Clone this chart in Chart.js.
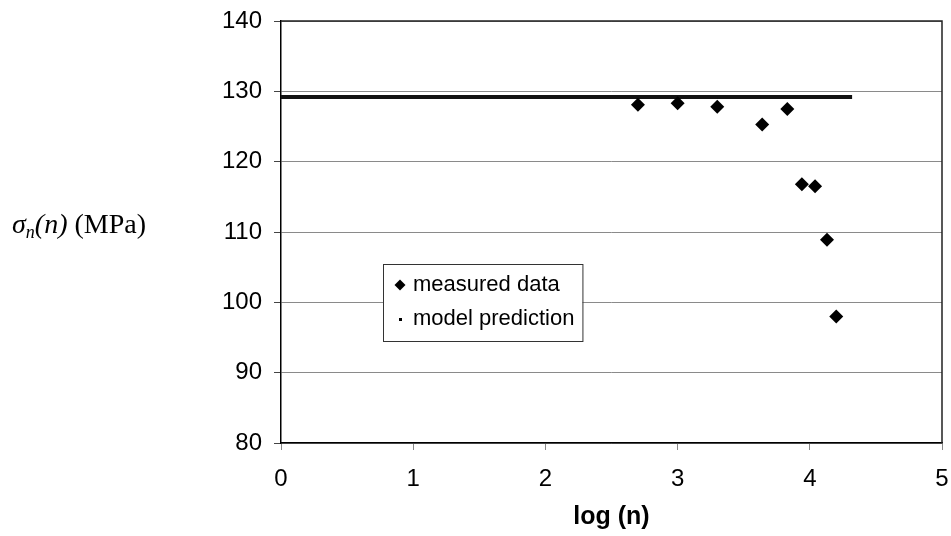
<!DOCTYPE html>
<html>
<head>
<meta charset="utf-8">
<title>Stress vs log(n)</title>
<script src="https://cdn.jsdelivr.net/npm/chart.js@4.4.1/dist/chart.umd.min.js"></script>
<style>
  html, body { margin: 0; padding: 0; background: #fff; }
  #wrap { width: 951px; height: 536px; position: relative; }
</style>
</head>
<body>
<div id="wrap"><canvas id="stressChart"></canvas></div>
<script>
// measured points
const measuredLogN = [2.70, 3.00, 3.30, 3.64, 3.83, 3.94, 4.04, 4.13, 4.20]
const measuredStress = [128.1, 128.3, 127.8, 125.3, 127.5, 116.8, 116.5, 108.9, 98.0]

// model prediction (flat line)
const modelLogN = [0, 4.32]
const modelStress = [129.2, 129.2]

const xTicks = [0, 1, 2, 3, 4, 5]
const yTicks = [80, 90, 100, 110, 120, 130, 140]

const seriesLabels = ['measured data', 'model prediction']

const SANS = '"Liberation Sans", Arial, sans-serif'
const SERIF = '"Liberation Serif", "Times New Roman", serif'

function toPoints(xs, ys) {
  return xs.map((x, i) => ({ x: x, y: ys[i] }))
}

// top and right edges of the plot box
const frameBorder = {
  id: 'frameBorder',
  afterDraw(chart) {
    const { ctx, chartArea } = chart
    ctx.save()
    ctx.strokeStyle = '#222'
    ctx.lineWidth = 1.5
    ctx.beginPath()
    ctx.moveTo(chartArea.left, chartArea.top)
    ctx.lineTo(chartArea.right, chartArea.top)
    ctx.lineTo(chartArea.right, chartArea.bottom)
    ctx.stroke()
    ctx.restore()
  }
}

// horizontal y-axis title: sigma_n(n) (MPa)
const yTitle = {
  id: 'yTitle',
  afterDraw(chart) {
    const ctx = chart.ctx
    const base = 233
    let x = 12
    ctx.save()
    ctx.fillStyle = '#000'
    ctx.textBaseline = 'alphabetic'
    ctx.textAlign = 'left'
    const parts = [
      { t: '\u03c3', font: 'italic 28px ' + SERIF, dy: 0 },
      { t: 'n', font: 'italic 18px ' + SERIF, dy: 5 },
      { t: '(n)', font: 'italic 28px ' + SERIF, dy: 0 },
      { t: ' (MPa)', font: '28px ' + SERIF, dy: 0 }
    ]
    parts.forEach(p => {
      ctx.font = p.font
      ctx.fillText(p.t, x, base + p.dy)
      x += ctx.measureText(p.t).width
    })
    ctx.restore()
  }
}

// boxed legend inside the plot
const boxLegend = {
  id: 'boxLegend',
  afterDraw(chart) {
    const ctx = chart.ctx
    const left = 383, top = 264, bottom = 341
    const textX = 413
    const rows = [291, 325]
    ctx.save()
    ctx.font = '22px ' + SANS
    const widest = Math.max(...chart.data.datasets.map(d => ctx.measureText(d.label).width))
    const right = textX + widest + 8

    ctx.fillStyle = '#fff'
    ctx.fillRect(left, top, right - left, bottom - top)
    ctx.strokeStyle = '#333'
    ctx.lineWidth = 1
    ctx.strokeRect(left + 0.5, top + 0.5, right - left, bottom - top)

    ctx.fillStyle = '#000'
    // diamond marker
    const dx = 400, dy = rows[0] - 6
    ctx.beginPath()
    ctx.moveTo(dx, dy - 5.5)
    ctx.lineTo(dx + 5.5, dy)
    ctx.lineTo(dx, dy + 5.5)
    ctx.lineTo(dx - 5.5, dy)
    ctx.closePath()
    ctx.fill()
    // small dot marker
    ctx.fillRect(399, rows[1] - 7, 3, 3)

    ctx.textBaseline = 'alphabetic'
    ctx.textAlign = 'left'
    chart.data.datasets.forEach((d, i) => {
      ctx.fillText(d.label, textX, rows[i])
    })
    ctx.restore()
  }
}

const ctx = document.getElementById('stressChart').getContext('2d')

new Chart(ctx, {
  type: 'scatter',
  data: {
    datasets: [
      {
        label: seriesLabels[0],
        data: toPoints(measuredLogN, measuredStress),
        pointStyle: 'rectRot',
        pointRadius: 7,
        pointHoverRadius: 7,
        backgroundColor: '#000',
        borderColor: '#000',
        borderWidth: 0
      },
      {
        label: seriesLabels[1],
        data: toPoints(modelLogN, modelStress),
        showLine: true,
        pointRadius: 0,
        borderColor: '#111',
        borderWidth: 4
      }
    ]
  },
  options: {
    responsive: true,
    maintainAspectRatio: false,
    animation: false,
    layout: {
      padding: { top: 21, right: 9, bottom: 0, left: 0 }
    },
    plugins: {
      legend: { display: false },
      tooltip: { enabled: false }
    },
    scales: {
      x: {
        type: 'linear',
        min: xTicks[0],
        max: xTicks[xTicks.length - 1],
        afterBuildTicks: scale => { scale.ticks = xTicks.map(v => ({ value: v })) },
        afterFit: scale => {
          scale.height = 93
          scale.paddingLeft = 0
          scale.paddingRight = 0
        },
        ticks: {
          color: '#000',
          padding: 15,
          font: { family: SANS, size: 24 }
        },
        grid: {
          drawOnChartArea: false,
          drawTicks: true,
          tickLength: 7,
          tickColor: '#888'
        },
        border: { display: true, color: '#000', width: 1.5 },
        title: {
          display: true,
          text: 'log (n)',
          color: '#000',
          padding: { top: 0, bottom: 4 },
          font: { family: SANS, size: 25, weight: 'bold' }
        }
      },
      y: {
        min: yTicks[0],
        max: yTicks[yTicks.length - 1],
        afterBuildTicks: scale => { scale.ticks = yTicks.map(v => ({ value: v })) },
        afterFit: scale => {
          scale.width = 281
          scale.paddingTop = 0
          scale.paddingBottom = 0
        },
        ticks: {
          color: '#000',
          padding: 12,
          font: { family: SANS, size: 24 }
        },
        grid: {
          color: '#8a8a8a',
          lineWidth: 1,
          tickLength: 7,
          tickColor: '#444'
        },
        border: { display: true, color: '#000', width: 1.5 }
      }
    }
  },
  plugins: [frameBorder, yTitle, boxLegend]
})
</script>
</body>
</html>
